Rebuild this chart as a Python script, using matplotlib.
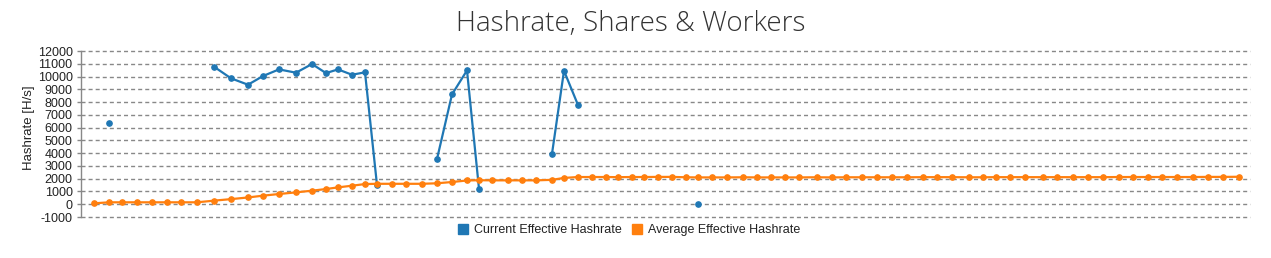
import matplotlib
matplotlib.use("Agg")
import matplotlib.pyplot as plt
from matplotlib.lines import Line2D
import numpy as np

# sample times (minutes from first sample)
t_min = [0, 15, 28, 43, 58, 73, 87, 103, 120, 137, 154, 169, 185, 202, 218, 232,
         244, 258, 271, 283, 298, 312, 328, 343, 358, 373, 385, 398, 414, 428,
         442, 458, 470, 484, 498, 512, 524, 538, 550, 564, 578, 592, 604, 618,
         633, 649, 663, 677, 691, 705, 723, 738, 752, 768, 783, 798, 813, 829,
         843, 858, 875, 889, 902, 916, 931, 949, 963, 979, 994, 1009, 1025, 1039,
         1054, 1068, 1083, 1099, 1114, 1129, 1145]

nan = np.nan
current_hr = [nan, 6330, nan, nan, nan, nan, nan, nan,
              10770, 9860, 9360, 10040, 10560, 10300, 10980, 10270, 10560, 10140, 10330, 1500,
              nan, nan, nan,
              3540, 8600, 10480, 1210,
              nan, nan, nan, nan,
              3950, 10450, 7770,
              nan, nan, nan, nan, nan, nan, nan, nan,
              0] + [nan] * 36

average_hr = [70, 150, 150, 150, 150, 150, 150, 150, 280, 400, 530, 670, 800, 930,
              1060, 1190, 1320, 1450, 1580, 1600, 1600, 1600, 1600, 1640, 1740, 1860,
              1880, 1870, 1870, 1870, 1870, 1910, 2060, 2130, 2130, 2130, 2120, 2130,
              2130, 2140, 2140, 2110, 2100, 2100, 2100, 2110, 2100, 2100, 2100, 2100,
              2110, 2100, 2110, 2110, 2110, 2110, 2110, 2120, 2120, 2120, 2110, 2110,
              2120, 2120, 2120, 2120, 2120, 2120, 2120, 2120, 2130, 2130, 2130, 2130,
              2130, 2130, 2140, 2140, 2150]

series_names = ["Current Effective Hashrate", "Average Effective Hashrate"]
colors = ["#1f77b4", "#ff7f0e"]
y_ticks = list(range(-1000, 12001, 1000))

plt.rcParams['font.family'] = ['Liberation Sans', 'DejaVu Sans']

fig = plt.figure(figsize=(12.71, 2.58), dpi=100)
ax = fig.add_axes([81 / 1271, 1 - 217 / 258, (1250 - 81) / 1271, (217 - 51) / 258])

ax.plot(t_min, current_hr, color=colors[0], lw=1.6, marker='o', ms=3.8, zorder=3)
ax.plot(t_min, average_hr, color=colors[1], lw=1.6, marker='o', ms=3.8, zorder=4)

ax.set_xlim(-13, 1156)
ax.set_ylim(-1000, 12000)
ax.set_yticks(y_ticks)
ax.set_yticklabels([str(v) for v in y_ticks])
ax.tick_params(axis='y', labelsize=9, colors='#888888', labelcolor='#222222',
               length=3, width=1, pad=3)
ax.set_xticks([])

ax.yaxis.grid(True, linestyle=(0, (2.9, 2.2)), color='#888888', linewidth=1.0)
for gl in ax.yaxis.get_gridlines():
    gl.set_clip_on(False)
ax.set_axisbelow(True)
for s in ['top', 'right', 'bottom']:
    ax.spines[s].set_visible(False)
ax.spines['left'].set_color('#888888')
ax.spines['left'].set_linewidth(1.0)

fig.text(631 / 1271, 1 - 31 / 258, "Hashrate, Shares & Workers", ha='center', va='baseline',
         fontsize=20, color='#333333', family=['Open Sans', 'DejaVu Sans'], fontweight='light')
fig.text(29 / 1271, 1 - 128 / 258, "Hashrate [H/s]", rotation=90, ha='center', va='center',
         fontsize=9.5, color='#222222')

handles = [Line2D([], [], marker='s', linestyle='', markersize=7, color=c) for c in colors]
fig.legend(handles, series_names, loc='center', bbox_to_anchor=(629 / 1271, 1 - 230 / 258),
           ncol=2, frameon=False, fontsize=9, handlelength=0.8, handletextpad=0.5,
           columnspacing=0.8, labelcolor='#222222', borderpad=0)

fig.savefig("out.png", dpi=100)
